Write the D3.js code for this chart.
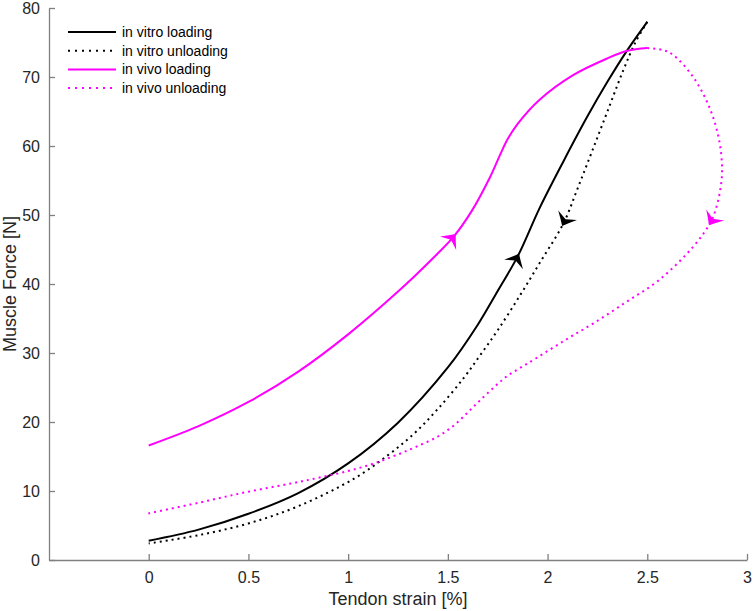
<!DOCTYPE html>
<html>
<head>
<meta charset="utf-8">
<script src="https://cdn.jsdelivr.net/npm/d3@7"></script>
<style>
  body { margin: 0; background: #fff; }
  svg { display: block; font-family: "Liberation Sans", Arial, Helvetica, sans-serif; }
  .axis path, .axis line { stroke: #808080; stroke-width: 1.3; }
  .axis text { fill: #262626; font-size: 16px; }
</style>
</head>
<body>
<svg id="chart"></svg>
<script>
"use strict";

var width = 754,
    height = 611;

// Tendon strain [%] / muscle force [N]
var vitroLoadX = [0, 0.25, 0.5, 0.75, 1.0, 1.25, 1.5, 1.65, 1.75, 1.85, 1.96, 2.08, 2.2, 2.3, 2.4, 2.5];
var vitroLoadF = [2.8, 4.4, 6.7, 9.7, 14.0, 19.9, 27.9, 34.1, 39.0, 44.0, 51.0, 57.8, 64.3, 69.3, 73.9, 78.0];

var vitroUnloadX = [2.5, 2.44, 2.38, 2.3, 2.22, 2.15, 2.08, 1.97, 1.865, 1.75, 1.66, 1.58, 1.45, 1.33, 1.2, 1.03, 0.75, 0.5, 0.25, 0];
var vitroUnloadF = [78.0, 75.0, 71.0, 65.0, 59.0, 53.8, 48.8, 43.5, 38.5, 33.3, 29.6, 26.4, 21.9, 18.3, 15.2, 11.8, 7.8, 5.3, 3.6, 2.4];

var vivoLoadX = [0, 0.25, 0.5, 0.75, 1.0, 1.25, 1.41, 1.53, 1.62, 1.71, 1.76, 1.8, 1.85, 1.96, 2.13, 2.3, 2.4, 2.5];
var vivoLoadF = [16.6, 19.4, 22.9, 27.3, 32.7, 38.9, 43.3, 46.9, 50.6, 55.4, 58.6, 61.0, 63.2, 66.7, 70.3, 72.7, 73.8, 74.2];

var vivoUnloadX = [2.5, 2.58, 2.63, 2.73, 2.81, 2.86, 2.875, 2.865, 2.842, 2.817, 2.73, 2.56, 2.395, 2.23, 2.09, 1.94, 1.86, 1.79, 1.73, 1.66, 1.6, 1.53, 1.45, 1.34, 1.25, 1.13, 1.0, 0.75, 0.5, 0.25, -0.01];
var vivoUnloadF = [74.2, 73.9, 73.2, 70.0, 65.7, 60.9, 56.5, 53.5, 50.7, 48.9, 45.4, 40.6, 37.4, 34.3, 31.9, 29.2, 27.8, 26.5, 25.0, 23.1, 21.4, 19.5, 17.9, 16.4, 15.3, 14.0, 12.9, 11.3, 9.9, 8.3, 6.7];

// strain where each direction arrow sits
var arrowX = [1.85, 2.08, 1.53, 2.817];

var seriesNames = ["in vitro loading", "in vitro unloading", "in vivo loading", "in vivo unloading"];
var seriesColors = ["#000000", "#000000", "#ff00ff", "#ff00ff"];
var seriesDotted = [false, true, false, true];

var xTicks = [0, 0.5, 1, 1.5, 2, 2.5, 3];
var yTicks = [0, 10, 20, 30, 40, 50, 60, 70, 80];

var series = [
    d3.zip(vitroLoadX, vitroLoadF),
    d3.zip(vitroUnloadX, vitroUnloadF),
    d3.zip(vivoLoadX, vivoLoadF),
    d3.zip(vivoUnloadX, vivoUnloadF)
];

var margin = { top: 8, right: 7, bottom: 51, left: 49 };

var x = d3.scaleLinear().domain([-0.5, 3]).range([margin.left, width - margin.right]);
var y = d3.scaleLinear().domain([0, 80]).range([height - margin.bottom, margin.top]);

var svg = d3.select("#chart")
    .attr("width", width)
    .attr("height", height);

// axes, ticks pointing inwards like matlab
svg.append("g")
    .attr("class", "axis")
    .attr("transform", "translate(0," + y(0) + ")")
    .call(d3.axisBottom(x)
        .tickValues(xTicks)
        .tickSizeInner(-6)
        .tickSizeOuter(0)
        .tickPadding(12)
        .tickFormat(function (d) { return d; }));

svg.append("g")
    .attr("class", "axis")
    .attr("transform", "translate(" + x(-0.5) + ",0)")
    .call(d3.axisLeft(y)
        .tickValues(yTicks)
        .tickSizeInner(-6)
        .tickSizeOuter(0)
        .tickPadding(9));

svg.selectAll(".axis text").attr("font-family", null).attr("font-size", null);

svg.append("text")
    .attr("x", (x.range()[0] + x.range()[1]) / 2)
    .attr("y", 605)
    .attr("text-anchor", "middle")
    .attr("font-size", 18)
    .attr("fill", "#262626")
    .text("Tendon strain [%]");

svg.append("text")
    .attr("transform", "translate(16," + ((y.range()[0] + y.range()[1]) / 2) + ") rotate(-90)")
    .attr("text-anchor", "middle")
    .attr("font-size", 18)
    .attr("fill", "#262626")
    .text("Muscle Force [N]");

var line = d3.line()
    .x(function (d) { return x(d[0]); })
    .y(function (d) { return y(d[1]); })
    .curve(d3.curveCatmullRom.alpha(0.5));

svg.selectAll(".curve")
    .data(series)
    .enter()
    .append("path")
    .attr("class", "curve")
    .attr("d", line)
    .attr("fill", "none")
    .attr("stroke", function (d, i) { return seriesColors[i]; })
    .attr("stroke-width", 2)
    .attr("stroke-dasharray", function (d, i) { return seriesDotted[i] ? "2,4" : null; });

// arrowheads pointing along the direction of travel
var arrowShape = "M0,0 Q-5,4 -12,10.5 L-7.5,0 L-12,-10.5 Q-5,-4 0,0 Z";

series.forEach(function (s, i) {
    var k = d3.minIndex(s, function (d) { return Math.abs(d[0] - arrowX[i]); });
    var p0 = s[Math.max(k - 1, 0)], p1 = s[Math.min(k + 1, s.length - 1)];
    var ang = Math.atan2(y(p1[1]) - y(p0[1]), x(p1[0]) - x(p0[0])) * 180 / Math.PI;
    svg.append("path")
        .attr("d", arrowShape)
        .attr("fill", seriesColors[i])
        .attr("transform", "translate(" + (x(s[k][0])) + "," + y(s[k][1]) + ") rotate(" + ang + ") translate(3,0)");
});

// legend, no box
var legend = svg.append("g").attr("transform", "translate(68,32)");

var rows = legend.selectAll(".row")
    .data(seriesNames)
    .enter()
    .append("g")
    .attr("class", "row")
    .attr("transform", function (d, i) { return "translate(0," + (i * 18.7) + ")"; });

rows.append("line")
    .attr("x1", 0)
    .attr("x2", 48)
    .attr("stroke", function (d, i) { return seriesColors[i]; })
    .attr("stroke-width", 2)
    .attr("stroke-dasharray", function (d, i) { return seriesDotted[i] ? "2,5" : null; });

rows.append("text")
    .attr("x", 54)
    .attr("dy", "0.35em")
    .attr("font-size", 14)
    .attr("fill", "#000")
    .text(function (d) { return d; });
</script>
</body>
</html>
